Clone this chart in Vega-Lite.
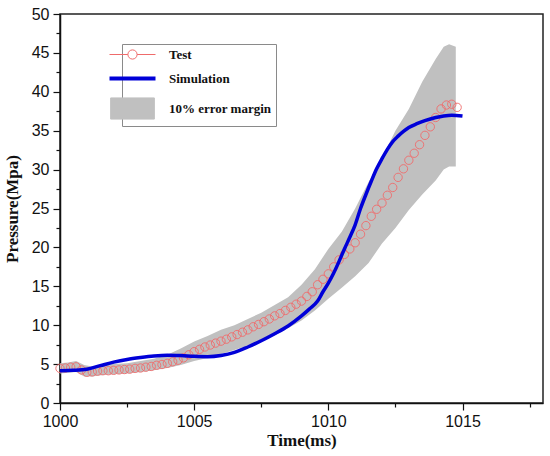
{
  "$schema": "https://vega.github.io/schema/vega-lite/v6.json",
  "autosize": "none",
  "width": 483,
  "height": 389,
  "padding": {"left": 60, "top": 14, "right": 7, "bottom": 53},
  "background": "white",
  "datasets": {
    "test": [
      {"t": 1000.0, "p": 4.45}, {"t": 1000.2, "p": 4.5}, {"t": 1000.4, "p": 4.6}, {"t": 1000.6, "p": 4.65},
      {"t": 1000.8, "p": 4.25}, {"t": 1001.0, "p": 3.95}, {"t": 1001.2, "p": 4.0}, {"t": 1001.4, "p": 4.1},
      {"t": 1001.6, "p": 4.15}, {"t": 1001.8, "p": 4.15}, {"t": 1002.0, "p": 4.2}, {"t": 1002.2, "p": 4.25},
      {"t": 1002.4, "p": 4.3}, {"t": 1002.6, "p": 4.35}, {"t": 1002.8, "p": 4.45}, {"t": 1003.0, "p": 4.5},
      {"t": 1003.2, "p": 4.6}, {"t": 1003.4, "p": 4.7}, {"t": 1003.6, "p": 4.85}, {"t": 1003.8, "p": 4.95},
      {"t": 1004.0, "p": 5.1}, {"t": 1004.2, "p": 5.3}, {"t": 1004.4, "p": 5.5}, {"t": 1004.6, "p": 5.8},
      {"t": 1004.8, "p": 6.2}, {"t": 1005.0, "p": 6.6}, {"t": 1005.2, "p": 6.9}, {"t": 1005.4, "p": 7.2},
      {"t": 1005.6, "p": 7.45}, {"t": 1005.8, "p": 7.7}, {"t": 1006.0, "p": 7.95}, {"t": 1006.2, "p": 8.2},
      {"t": 1006.4, "p": 8.5}, {"t": 1006.6, "p": 8.8}, {"t": 1006.8, "p": 9.1}, {"t": 1007.0, "p": 9.4},
      {"t": 1007.2, "p": 9.8}, {"t": 1007.4, "p": 10.1}, {"t": 1007.6, "p": 10.45}, {"t": 1007.8, "p": 10.8},
      {"t": 1008.0, "p": 11.2}, {"t": 1008.2, "p": 11.5}, {"t": 1008.4, "p": 11.9}, {"t": 1008.6, "p": 12.3},
      {"t": 1008.8, "p": 12.7}, {"t": 1009.0, "p": 13.1}, {"t": 1009.2, "p": 13.7}, {"t": 1009.4, "p": 14.3},
      {"t": 1009.6, "p": 15.2}, {"t": 1009.8, "p": 15.9}, {"t": 1010.0, "p": 16.6}, {"t": 1010.2, "p": 17.5},
      {"t": 1010.4, "p": 18.4}, {"t": 1010.6, "p": 19.1}, {"t": 1010.8, "p": 19.8}, {"t": 1011.0, "p": 20.6},
      {"t": 1011.2, "p": 21.7}, {"t": 1011.4, "p": 22.8}, {"t": 1011.6, "p": 24.0}, {"t": 1011.8, "p": 24.9},
      {"t": 1012.0, "p": 25.7}, {"t": 1012.2, "p": 26.7}, {"t": 1012.4, "p": 27.7}, {"t": 1012.6, "p": 29.0},
      {"t": 1012.8, "p": 30.1}, {"t": 1013.0, "p": 31.2}, {"t": 1013.2, "p": 32.1}, {"t": 1013.4, "p": 33.2},
      {"t": 1013.6, "p": 34.4}, {"t": 1013.8, "p": 35.5}, {"t": 1014.0, "p": 36.7}, {"t": 1014.2, "p": 37.8},
      {"t": 1014.4, "p": 38.3}, {"t": 1014.6, "p": 38.4}, {"t": 1014.8, "p": 38.0}
    ],
    "sim": [
      {"t": 1000.0, "p": 4.15}, {"t": 1000.5, "p": 4.2}, {"t": 1001.0, "p": 4.35}, {"t": 1001.5, "p": 4.8},
      {"t": 1002.0, "p": 5.25}, {"t": 1002.5, "p": 5.6}, {"t": 1003.0, "p": 5.85}, {"t": 1003.5, "p": 6.05},
      {"t": 1004.0, "p": 6.15}, {"t": 1004.5, "p": 6.1}, {"t": 1005.0, "p": 6.0}, {"t": 1005.5, "p": 5.95},
      {"t": 1006.0, "p": 6.1}, {"t": 1006.5, "p": 6.5}, {"t": 1007.0, "p": 7.2}, {"t": 1007.5, "p": 8.0},
      {"t": 1008.0, "p": 8.9}, {"t": 1008.5, "p": 9.9}, {"t": 1009.0, "p": 11.2}, {"t": 1009.3, "p": 12.1},
      {"t": 1009.6, "p": 13.1}, {"t": 1009.8, "p": 14.3}, {"t": 1010.0, "p": 15.4}, {"t": 1010.2, "p": 16.7},
      {"t": 1010.4, "p": 18.2}, {"t": 1010.6, "p": 19.8}, {"t": 1010.8, "p": 21.3}, {"t": 1011.0, "p": 22.9},
      {"t": 1011.2, "p": 25.0}, {"t": 1011.4, "p": 26.8}, {"t": 1011.6, "p": 28.5}, {"t": 1011.8, "p": 30.1},
      {"t": 1012.0, "p": 31.4}, {"t": 1012.2, "p": 32.6}, {"t": 1012.4, "p": 33.6}, {"t": 1012.6, "p": 34.3},
      {"t": 1012.8, "p": 34.9}, {"t": 1013.0, "p": 35.4}, {"t": 1013.3, "p": 35.9}, {"t": 1013.6, "p": 36.3},
      {"t": 1014.0, "p": 36.7}, {"t": 1014.3, "p": 36.9}, {"t": 1014.6, "p": 37.0}, {"t": 1015.0, "p": 36.9}
    ],
    "band": [
      {"t": 1000.0, "hi": 5.1, "lo": 3.8}, {"t": 1000.3, "hi": 5.2, "lo": 3.9}, {"t": 1000.6, "hi": 5.4, "lo": 4.0},
      {"t": 1000.9, "hi": 4.9, "lo": 3.4}, {"t": 1001.2, "hi": 4.7, "lo": 3.4}, {"t": 1001.6, "hi": 4.9, "lo": 3.6},
      {"t": 1002.0, "hi": 5.0, "lo": 3.7}, {"t": 1002.5, "hi": 5.1, "lo": 3.8}, {"t": 1003.0, "hi": 5.4, "lo": 4.0},
      {"t": 1003.5, "hi": 5.7, "lo": 4.2}, {"t": 1004.0, "hi": 6.2, "lo": 4.5}, {"t": 1004.5, "hi": 7.0, "lo": 4.9},
      {"t": 1005.0, "hi": 7.9, "lo": 5.4}, {"t": 1005.5, "hi": 8.6, "lo": 5.8}, {"t": 1006.0, "hi": 9.4, "lo": 6.3},
      {"t": 1006.5, "hi": 10.0, "lo": 6.8}, {"t": 1007.0, "hi": 10.8, "lo": 7.4}, {"t": 1007.5, "hi": 11.6, "lo": 8.0},
      {"t": 1008.0, "hi": 12.6, "lo": 8.7}, {"t": 1008.5, "hi": 13.6, "lo": 9.6}, {"t": 1009.0, "hi": 15.2, "lo": 10.6},
      {"t": 1009.5, "hi": 17.2, "lo": 11.9}, {"t": 1010.0, "hi": 19.8, "lo": 13.4}, {"t": 1010.5, "hi": 22.0, "lo": 14.8},
      {"t": 1011.0, "hi": 25.0, "lo": 16.3}, {"t": 1011.5, "hi": 28.4, "lo": 18.0}, {"t": 1012.0, "hi": 31.5, "lo": 20.5},
      {"t": 1012.5, "hi": 35.0, "lo": 22.5}, {"t": 1013.0, "hi": 37.8, "lo": 24.8}, {"t": 1013.5, "hi": 41.3, "lo": 26.8},
      {"t": 1014.0, "hi": 44.2, "lo": 28.6}, {"t": 1014.3, "hi": 45.8, "lo": 30.0}, {"t": 1014.5, "hi": 46.1, "lo": 30.4},
      {"t": 1014.75, "hi": 45.8, "lo": 30.4}
    ]
  },
  "encoding": {
    "x": {
      "field": "t",
      "type": "quantitative",
      "title": "Time(ms)",
      "scale": {"domain": [1000, 1018], "nice": false, "zero": false},
      "axis": {
        "values": [1000, 1002.5, 1005, 1007.5, 1010, 1012.5, 1015, 1017.5],
        "labelExpr": "datum.value % 5 === 0 ? datum.value : ''",
        "tickSize": {"condition": {"test": "datum.value % 5 !== 0", "value": 4}, "value": 7},
        "labelFlush": false,
        "labelPadding": 3,
        "titlePadding": 3,
        "grid": false
      }
    },
    "y": {
      "field": "p",
      "type": "quantitative",
      "title": "Pressure(Mpa)",
      "scale": {"domain": [0, 50], "nice": false},
      "axis": {
        "values": [0, 2.5, 5, 7.5, 10, 12.5, 15, 17.5, 20, 22.5, 25, 27.5, 30, 32.5, 35, 37.5, 40, 42.5, 45, 47.5, 50],
        "labelExpr": "datum.value % 5 === 0 ? datum.value : ''",
        "tickSize": {"condition": {"test": "datum.value % 5 !== 0", "value": 4}, "value": 7},
        "labelFlush": false,
        "labelPadding": 4,
        "titlePadding": 10,
        "grid": false
      }
    },
    "color": {
      "scale": {
        "domain": ["Test", "Simulation", "10% error margin"],
        "range": ["#ef6b6b", "#0000d8", "#c0c0c0"]
      },
      "legend": {
        "title": null,
        "orient": "none",
        "legendX": 62,
        "legendY": 30,
        "strokeColor": "#8a8a8a",
        "fillColor": "white",
        "padding": 4,
        "rowPadding": 8,
        "symbolSize": 2116,
        "symbolStrokeWidth": 1,
        "labelOffset": 30,
        "labelFont": "Liberation Serif",
        "labelFontWeight": "bold",
        "labelFontSize": 13,
        "labelColor": "#111",
        "encode": {
          "symbols": {
            "update": {
              "shape": {"signal": "datum.value === 'Test' ? 'M-1,0H-0.2M0.2,0H1M-0.2,0A0.2,0.2,0,1,1,0.2,0A0.2,0.2,0,1,1,-0.2,0Z' : datum.value === 'Simulation' ? 'M-1,0H1' : 'M-0.95,-0.46H0.95V0.46H-0.95Z'"},
              "fill": {"signal": "datum.value === '10% error margin' ? '#c0c0c0' : 'white'"},
              "fillOpacity": {"signal": "datum.value === '10% error margin' ? 1 : 0"},
              "stroke": {"signal": "datum.value === 'Test' ? '#ef6b6b' : datum.value === 'Simulation' ? '#0000d8' : 'transparent'"},
              "strokeWidth": {"signal": "datum.value === 'Simulation' ? 4 : 1"},
              "opacity": {"value": 1}
            }
          }
        }
      }
    }
  },
  "layer": [
    {
      "data": {"name": "band"},
      "mark": {"type": "area", "opacity": 1},
      "encoding": {
        "y": {"field": "hi", "type": "quantitative"},
        "y2": {"field": "lo"},
        "color": {"datum": "10% error margin"}
      }
    },
    {
      "data": {"name": "test"},
      "mark": {"type": "point", "shape": "circle", "filled": false, "size": 70, "strokeWidth": 0.9, "opacity": 1},
      "encoding": {
        "color": {"datum": "Test"}
      }
    },
    {
      "data": {"name": "sim"},
      "mark": {"type": "line", "strokeWidth": 3.5, "interpolate": "monotone"},
      "encoding": {
        "color": {"datum": "Simulation"}
      }
    }
  ],
  "config": {
    "view": {"stroke": "#222", "strokeWidth": 1.5},
    "axis": {
      "domainColor": "#111",
      "domainWidth": 1.5,
      "tickColor": "#111",
      "tickWidth": 1.2,
      "labelFont": "Liberation Sans",
      "labelFontSize": 16,
      "labelColor": "#111",
      "titleFont": "Liberation Serif",
      "titleFontWeight": "bold",
      "titleFontSize": 17,
      "titleColor": "#111"
    }
  }
}
